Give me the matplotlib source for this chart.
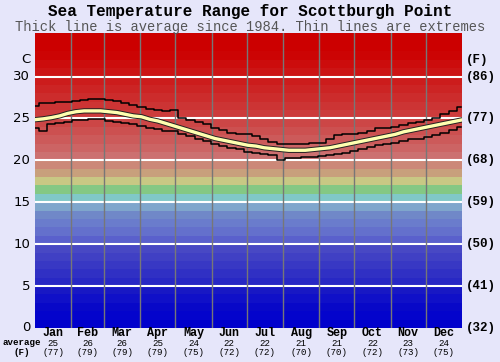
import matplotlib
matplotlib.use("Agg")
import matplotlib.pyplot as plt
import matplotlib.patheffects as pe
import numpy as np

# weekly readings (day of year, deg C)
days = list(range(0, 365, 7))
avg_temp = [24.85, 24.95, 25.1, 25.3, 25.6, 25.8, 25.9, 25.9, 25.9, 25.8, 25.7, 25.5, 25.3, 25.2,
            24.9, 24.7, 24.4, 24.1, 23.8, 23.5, 23.2, 22.9, 22.6, 22.4, 22.2, 22.0, 21.8, 21.7,
            21.5, 21.4, 21.3, 21.2, 21.2, 21.2, 21.3, 21.4, 21.5, 21.7, 21.9, 22.1, 22.3, 22.5,
            22.7, 22.9, 23.1, 23.4, 23.6, 23.8, 24.0, 24.2, 24.4, 24.6, 24.8]
max_temp = [26.5, 26.9, 26.9, 27.0, 27.0, 27.1, 27.2, 27.3, 27.3, 27.2, 27.1, 26.9, 26.6, 26.4,
            26.1, 26.0, 25.9, 26.0, 25.0, 24.8, 24.6, 24.3, 23.9, 23.6, 23.3, 23.1, 23.2, 22.9,
            22.6, 22.2, 22.0, 21.9, 21.9, 21.9, 22.1, 22.1, 22.5, 23.0, 23.1, 23.2, 23.3, 23.5,
            23.8, 23.9, 24.0, 24.2, 24.4, 24.6, 24.8, 25.1, 25.5, 25.9, 26.4]
min_temp = [23.9, 23.5, 24.3, 24.5, 24.6, 24.8, 24.85, 24.9, 24.9, 24.7, 24.6, 24.5, 24.3, 24.1,
            23.9, 23.7, 23.5, 23.5, 23.1, 22.9, 22.5, 22.3, 21.9, 21.7, 21.5, 21.3, 21.0, 20.9,
            20.8, 20.6, 20.1, 20.3, 20.3, 20.4, 20.4, 20.5, 20.6, 20.8, 20.9, 21.1, 21.3, 21.6,
            21.8, 22.0, 22.1, 22.3, 22.5, 22.6, 22.8, 23.0, 23.3, 23.6, 24.0]

months = ["Jan", "Feb", "Mar", "Apr", "May", "Jun", "Jul", "Aug", "Sep", "Oct", "Nov", "Dec"]
month_starts = [0, 31, 59, 90, 120, 151, 181, 212, 243, 273, 304, 334, 365]
month_avg_c = [25, 26, 26, 25, 24, 22, 22, 21, 21, 22, 23, 24]
month_avg_f = [77, 79, 79, 79, 75, 72, 72, 70, 70, 72, 73, 75]

c_ticks = [0, 5, 10, 15, 20, 25, 30]
f_labels = ["(32)", "(41)", "(50)", "(59)", "(68)", "(77)", "(86)"]

# one colour per 1 degree band, from 0 C upwards
band_colors = ["#0000cc", "#0404cc", "#0808c8", "#1010c8", "#1818c4", "#2828c4", "#3030c4",
               "#3838c4", "#4040c4", "#4848c4", "#5a60cc", "#6470cc", "#6a7ccc", "#7088c8",
               "#7fa6cc", "#80c8c8", "#84c884", "#c8c884", "#c8a07c", "#cc8878",
               "#cc7070", "#cc6464", "#cc5a5a", "#cc5050", "#cc4646", "#cc3c3c", "#cc3434",
               "#cc2c2c", "#cc2424", "#cc1c1c", "#cc1414", "#cc0c0c", "#cc0404", "#cc0000",
               "#cc0000", "#cc0000"]

bg = "#e6e6fa"
fig = plt.figure(figsize=(5.0, 3.62), dpi=100, facecolor=bg)
ax = fig.add_axes([0.07, 0.094, 0.854, 0.815])
ymax = 35.2

for i, c in enumerate(band_colors):
    ax.axhspan(i, i + 1, color=c, lw=0, zorder=0)

for t in c_ticks[1:]:
    ax.axhline(t, color="white", lw=1.5, zorder=1)
for m in month_starts[1:-1]:
    ax.axvline(m, color="#777777", lw=1, zorder=1)

ax.plot(days, max_temp, color="black", lw=1.1, drawstyle="steps-mid", zorder=3)
ax.plot(days, min_temp, color="black", lw=1.1, drawstyle="steps-mid", zorder=3)
ax.plot(days, avg_temp, color="#ffffb0", lw=2.4, zorder=4,
        path_effects=[pe.Stroke(linewidth=3.8, foreground="#222222"), pe.Normal()])

ax.set_xlim(0, 365)
ax.set_ylim(0, ymax)
ax.set_xticks([])
ax.set_yticks([])
for s in ax.spines.values():
    s.set_visible(False)

mono = "Liberation Mono"
for t, fl in zip(c_ticks, f_labels):
    ax.text(-4, t, str(t), ha="right", va="center", fontsize=9.5, family="DejaVu Sans")
    ax.text(368, t, fl, ha="left", va="center", fontsize=9, family=mono, weight="bold")
ax.text(-4, 32, "C", ha="right", va="center", fontsize=9.5, family="DejaVu Sans")
ax.text(368, 32, "(F)", ha="left", va="center", fontsize=9, family=mono, weight="bold")

tr = ax.get_xaxis_transform()
for i, name in enumerate(months):
    xc = (month_starts[i] + month_starts[i + 1]) / 2
    ax.text(xc, -0.016, name, transform=tr, ha="center", va="center", fontsize=8.5,
            family=mono, weight="bold")
    ax.text(xc, -0.051, str(month_avg_c[i]), transform=tr, ha="center", va="center",
            fontsize=6.6, family=mono)
    ax.text(xc, -0.083, "(%d)" % month_avg_f[i], transform=tr, ha="center", va="center",
            fontsize=6.6, family=mono)
fig.text(0.044, 0.053, "average", ha="center", va="center", fontsize=6.6, family=mono, weight="bold")
fig.text(0.044, 0.027, "(F)", ha="center", va="center", fontsize=6.6, family=mono, weight="bold")

fig.text(0.5, 0.967, "Sea Temperature Range for Scottburgh Point", ha="center", va="center",
         fontsize=11.5, family=mono, weight="bold")
fig.text(0.5, 0.925, "Thick line is average since 1984. Thin lines are extremes", ha="center",
         va="center", fontsize=9.9, family=mono, color="#555555")

fig.savefig("out.png", dpi=100, facecolor=bg)
